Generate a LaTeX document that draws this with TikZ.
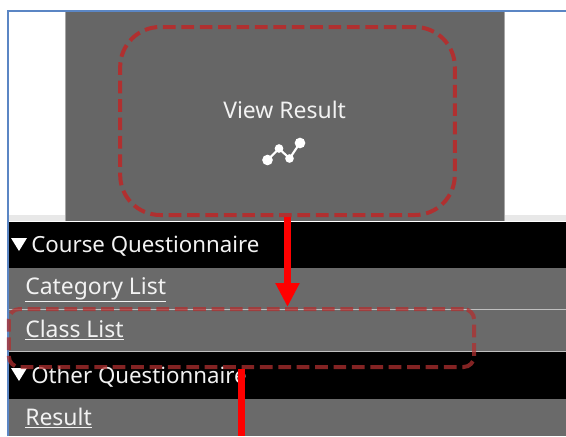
\documentclass[tikz,border=0pt]{standalone}
\usepackage{fontspec}
\setmainfont{Noto Sans}
\usetikzlibrary{arrows.meta}
\definecolor{panel}{HTML}{666666}
\definecolor{rowgrey}{HTML}{6A6A6A}
\definecolor{frameblue}{HTML}{5B86C4}
\definecolor{dashred}{HTML}{B03030}
\definecolor{textw}{HTML}{F2F2F2}
\tikzset{
  x=0.75pt,y=-0.75pt,
  lbl/.style={anchor=base west,inner sep=0pt,text=textw,font=\fontsize{17.2pt}{19pt}\selectfont},
  headlbl/.style={lbl,font=\fontsize{16.7pt}{19pt}\selectfont},
  callout/.style={draw=dashred,line width=3pt,dash pattern=on 9.5pt off 4.3pt,fill=none,inner sep=0pt,rounded corners=#1},
  flow/.style={draw=red,line width=5.8pt,-{Triangle[length=18pt,width=17pt]}},
  flowplain/.style={draw=red,line width=5.4pt},
  dot/.style={circle,fill=white,inner sep=0pt,minimum size=#1},
}
\begin{document}
\begin{tikzpicture}
\useasboundingbox (0,0) rectangle (566,436);
\fill[white] (0,0) rectangle (566,436);
% light strip and panel
\fill[black!9] (8,215) rectangle (566,221);
\fill[panel] (65,12) rectangle (504,221);
\draw[black!35,line width=0.7pt] (65,12) -- (65,221) (504,12) -- (504,221);
% rows
\fill[black] (8,221.5) rectangle (566,268);
\fill[rowgrey] (8,268) rectangle (566,309);
\fill[rowgrey] (8,310) rectangle (566,352);
\fill[black] (8,352) rectangle (566,399);
\fill[rowgrey] (8,399) rectangle (566,436);
\draw[black!25,line width=0.7pt] (8,309.5) -- (566,309.5) (8,351.5) -- (566,351.5);
% frame
\draw[frameblue,line width=1.5pt] (7.5,436) -- (7.5,11) -- (566,11);
% texts
\node[lbl] (viewresult) at (223,118) {View Result};
\node[headlbl] (coursehead) at (31,252) {Course Questionnaire};
\fill[white] (11,238) -- (27,238) -- (19,251) -- cycle;
\node[lbl] (categorylist) at (25,294) {\underline{Category List}};
\node[lbl] (classlist) at (25,337) {\underline{Class List}};
\node[headlbl] (otherhead) at (31,383) {Other Questionnaire};
\fill[white] (11,368) -- (27,368) -- (19,381) -- cycle;
\node[lbl] (resultlink) at (25,425) {\underline{Result}};
% icon
\draw[white,line width=1.6pt] (267.5,160) -- (279,148.5) -- (289.5,158.5) -- (300,143);
\node[dot=8pt] (d1) at (267.5,160) {};
\node[dot=6.5pt] (d2) at (279,148.5) {};
\node[dot=6.5pt] (d3) at (289.5,158.5) {};
\node[dot=8pt] (d4) at (300,143) {};
% callouts
\node[callout=30pt,minimum width=251pt,minimum height=141pt] (box1) at (287.5,121) {};
\node[callout=8pt,opacity=0.75,minimum width=349pt,minimum height=43.5pt] (box2) at (241.5,338) {};
% arrows
\coordinate (arrowend) at (241.5,436);
\draw[flow] (box1.south) -- (box1.south |- box2.north);
\draw[flowplain] (box2.south) -- (arrowend);
\end{tikzpicture}
\end{document}
